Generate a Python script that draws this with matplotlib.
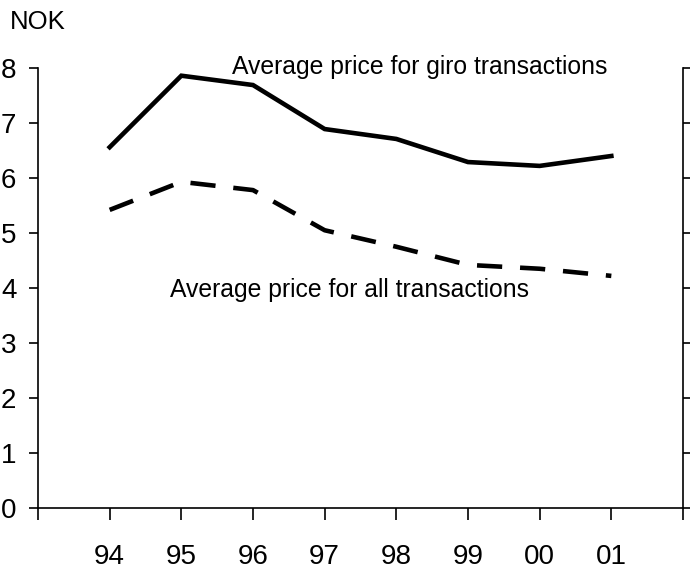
import matplotlib
matplotlib.use('Agg')
import matplotlib.pyplot as plt

plt.rcParams['font.family'] = ['Liberation Sans', 'DejaVu Sans']

# Data
years = ['94', '95', '96', '97', '98', '99', '00', '01']
giro_price = [6.56, 7.86, 7.69, 6.89, 6.71, 6.29, 6.22, 6.40]
all_price = [5.42, 5.93, 5.78, 5.05, 4.75, 4.42, 4.35, 4.22]

x = list(range(1, len(years) + 1))

fig = plt.figure(figsize=(6.9, 5.87), dpi=100)
ax = fig.add_axes([38 / 690, (587 - 508) / 587, (683 - 38) / 690, (508 - 68) / 587])

ax.plot(x, giro_price, color='black', linewidth=3.3, solid_joinstyle='miter')
ax.plot(x, all_price, color='black', linewidth=3.3, dashes=(5.5, 3.9))

ax.set_xlim(0, len(years) + 1)
ax.set_ylim(0, 8)

# x ticks on every boundary, labels only at the years
ax.set_xticks(range(0, len(years) + 2))
ax.set_xticklabels([''] + years + [''])
ax.set_yticks(range(0, 9))

ax.spines['top'].set_visible(False)
for side in ['left', 'right', 'bottom']:
    ax.spines[side].set_linewidth(1.2)

ax.tick_params(axis='x', direction='out', length=8.6, width=1.2, pad=17, labelsize=20)
ax.tick_params(axis='y', direction='out', length=6.5, width=1.2, pad=9, labelsize=20,
               right=True, labelright=False)

ax.text(2.71, 8.02, 'Average price for giro transactions', fontsize=17.8, va='center', ha='left')
ax.text(1.84, 3.96, 'Average price for all transactions', fontsize=17.8, va='center', ha='left')

fig.text(10 / 690, 1 - 22 / 587, 'NOK', fontsize=18.5, va='center', ha='left')

fig.savefig('out.png', dpi=100)
